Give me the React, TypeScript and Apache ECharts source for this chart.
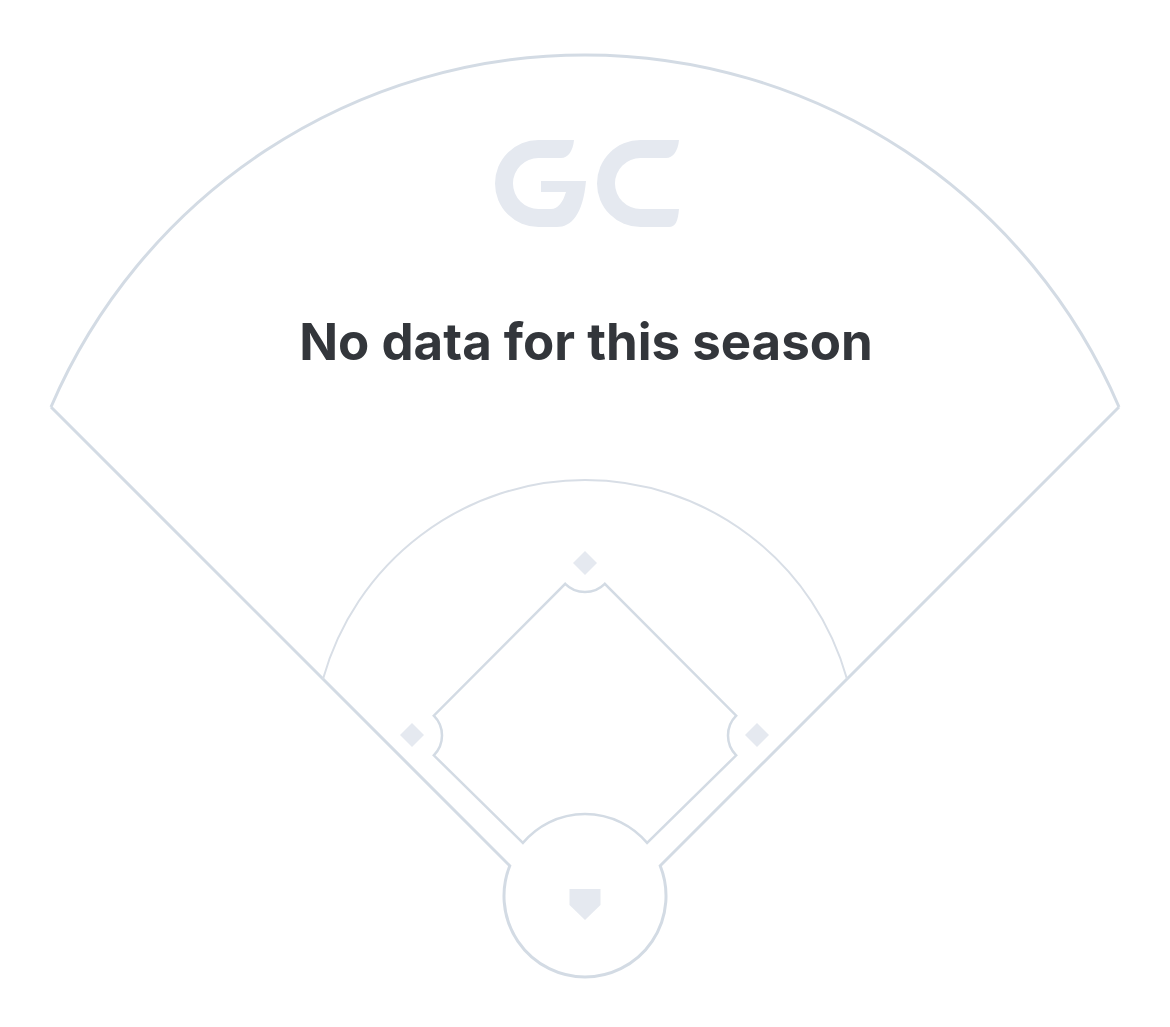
import React, { useEffect, useRef } from "react";
import * as echarts from "echarts";

// No data for this season: the chart shows only an empty field.
const messageLines = ["No data for this season"];
const seasonValues: number[] = [];

// Field geometry (page coordinates)
const fenceEnds = [[51, 407], [1119, 407]];
const fenceRadius = 581;
const homeCenter = [585, 896];
const homeRadius = 81;
const grassEnds = [[323, 679], [847, 679]];
const grassRadius = 272;
const baseCenters = [[757, 735], [585, 563], [412, 735]];
const cutRadius = 28;

const f = (n: number) => n.toFixed(1);

const fieldD = [
  `M ${fenceEnds[0][0]} ${fenceEnds[0][1]} A ${fenceRadius} ${fenceRadius} 0 0 1 ${fenceEnds[1][0]} ${fenceEnds[1][1]}`,
  `M ${fenceEnds[0][0]} ${fenceEnds[0][1]} L 509.8 865.8 A ${homeRadius} ${homeRadius} 0 1 0 660.2 865.8 L ${fenceEnds[1][0]} ${fenceEnds[1][1]}`,
].join(" ");

const d = cutRadius / Math.SQRT2;
const b1 = [756, 735.5], b2 = [585, 564], b3 = [414, 735.5];
const basePathD = [
  `M 522.9 842.9 A ${homeRadius} ${homeRadius} 0 0 1 647.1 842.9`,
  `L ${f(b1[0] - d)} ${f(b1[1] + d)} A ${cutRadius} ${cutRadius} 0 0 1 ${f(b1[0] - d)} ${f(b1[1] - d)}`,
  `L ${f(b2[0] + d)} ${f(b2[1] + d)} A ${cutRadius} ${cutRadius} 0 0 1 ${f(b2[0] - d)} ${f(b2[1] + d)}`,
  `L ${f(b3[0] + d)} ${f(b3[1] - d)} A ${cutRadius} ${cutRadius} 0 0 1 ${f(b3[0] + d)} ${f(b3[1] + d)}`,
  `Z`,
].join(" ");

const grassD = `M ${grassEnds[0][0]} ${grassEnds[0][1]} A ${grassRadius} ${grassRadius} 0 0 1 ${grassEnds[1][0]} ${grassEnds[1][1]}`;

const logoGD =
  "M 574 140 L 538.5 140 A 43.5 43.5 0 0 0 538.5 227 L 557 227 C 571 227 583 215 586 181 L 541 181 L 541 192 L 566 192 C 563 202 558 209 551 209 L 538.5 209 A 25.5 25.5 0 0 1 538.5 158 L 561 158 C 568 158 573 151 574 140 Z";
const logoCD =
  "M 679 140 L 640.5 140 A 43.5 43.5 0 0 0 640.5 227 L 669 227 C 675 227 678 222 679 209 L 640.5 209 A 25.5 25.5 0 0 1 640.5 158 L 666 158 C 673 158 678 151 679 140 Z";

echarts.graphic.registerShape("fieldOuter", echarts.graphic.extendPath(fieldD, {}));
echarts.graphic.registerShape("fieldInner", echarts.graphic.extendPath(basePathD, {}));
echarts.graphic.registerShape("fieldGrass", echarts.graphic.extendPath(grassD, {}));
echarts.graphic.registerShape("logoG", echarts.graphic.extendPath(logoGD, {}));
echarts.graphic.registerShape("logoC", echarts.graphic.extendPath(logoCD, {}));

const lineColor = "#d3dbe4";
const fillColor = "#e5e9f0";

export default function App() {
  const ref = useRef<HTMLDivElement>(null);
  useEffect(() => {
    if (!ref.current) return;
    const chart = echarts.init(ref.current, null, { renderer: "svg" });
    const half = 12;
    const bases = baseCenters.map(([cx, cy]) => ({
      type: "polygon",
      shape: { points: [[cx, cy - half], [cx + half, cy], [cx, cy + half], [cx - half, cy]] },
      style: { fill: fillColor },
    }));
    chart.setOption({
      animation: false,
      backgroundColor: "#ffffff",
      series: [],
      graphic: [
        { type: "fieldOuter", x: 0, y: 0, style: { fill: "none", stroke: lineColor, lineWidth: 3 } },
        { type: "fieldInner", x: 0, y: 0, style: { fill: "none", stroke: lineColor, lineWidth: 2.5 } },
        { type: "fieldGrass", x: 0, y: 0, style: { fill: "none", stroke: "#d8dee6", lineWidth: 2 } },
        ...bases,
        {
          type: "polygon",
          shape: { points: [[569.5, 889], [600.5, 889], [600.5, 905], [585, 920], [569.5, 905]] },
          style: { fill: fillColor },
        },
        { type: "logoG", x: 0, y: 0, style: { fill: fillColor } },
        { type: "logoC", x: 0, y: 0, style: { fill: fillColor } },
        {
          type: "text",
          x: 586,
          y: 341,
          style: {
            text: seasonValues.length ? "" : messageLines[0],
            align: "center",
            verticalAlign: "middle",
            font: "bold 51px Inter, 'Noto Sans', sans-serif",
            fill: "#33363b",
          },
        },
      ],
    });
    return () => chart.dispose();
  }, []);
  return (
    <div
      ref={ref}
      style={{ position: "absolute", left: 0, top: 0, width: 1170, height: 1027 }}
    />
  );
}
